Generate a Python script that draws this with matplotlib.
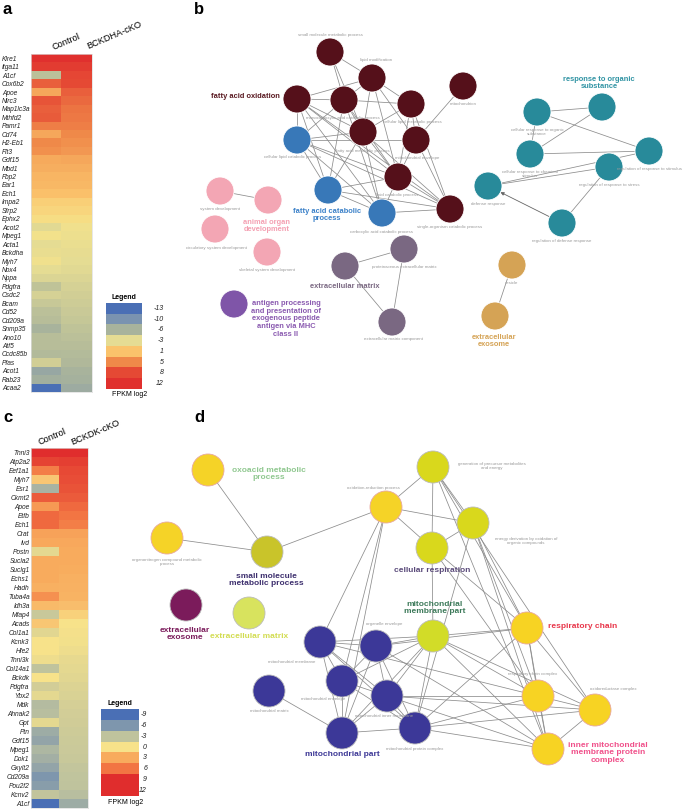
import numpy as np
import matplotlib.pyplot as plt
from matplotlib.colors import LinearSegmentedColormap, Normalize
from matplotlib.patches import Circle

plt.rcParams['font.family'] = ['Liberation Sans', 'DejaVu Sans']

W, H = 685, 810

# ---------------- panel a heatmap (log2 FPKM) ----------------
genes_a = ['Klre1', 'Itga11', 'A1cf', 'Cox6b2', 'Apoe', 'Nlrc3', 'Map1lc3a', 'Mthfd2', 'Pamr1', 'Cd74',
           'H2-Eb1', 'Flt3', 'Gdf15', 'Mbd1', 'Fbp2', 'Ear1', 'Ech1', 'Impa2', 'Sfrp2', 'Ephx2',
           'Acot2', 'Mpeg1', 'Acta1', 'Bckdha', 'Myh7', 'Nox4', 'Nppa', 'Pdgfra', 'Csdc2', 'Bcam',
           'Cd52', 'Cd209a', 'Snmp35', 'Ano10', 'Atf5', 'Ccdc85b', 'Pfas', 'Acot1', 'Rab23', 'Acaa2']
ctrl_a = [12, 10, -5, 7, 3, 7.5, 7, 7.2, 5.5, 3,
          5, 4.5, 2.8, 2.5, 2, 1.8, 1.2, 0, -0.5, -1,
          -3.2, -1.8, -3, -2.6, -2, -3, -3.5, -4.8, -3.8, -4.5,
          -5, -5.2, -6, -5.2, -5.2, -5.5, -4, -7.5, -6.5, -13]
cko_a = [12, 10, 8.5, 8, 7, 6.5, 6, 5.8, 5.5, 5,
         4.5, 4, 3, 2.5, 2, 1.8, 1.2, 0, -0.5, -1,
         -2, -2.2, -2.5, -2.8, -3, -3.2, -3.5, -3.8, -4, -4.2,
         -4.4, -4.6, -4.8, -5, -5.2, -5.4, -5.6, -6, -6.3, -7]
legend_a = [-13, -10, -6, -3, 1, 5, 8, 12]
cmap_a_vals = [-13, -10, -6, -3, -1.5, 1, 5, 8, 12]
cmap_a_cols = ['#4a6fb5', '#7b94b0', '#a9b49c', '#e5dc93', '#f6e38a', '#fbc46c', '#f08a4a', '#e64a35', '#e0302e']

# ---------------- panel c heatmap ----------------
genes_c = ['Tnni3', 'Atp2a2', 'Eef1a1', 'Myh7', 'Esr1', 'Ckmt2', 'Apoe', 'Etfb', 'Ech1', 'Crat',
           'Ivd', 'Postn', 'Sucla2', 'Suclg1', 'Echs1', 'Hadh', 'Tuba4a', 'Idh3a', 'Mfap4', 'Acads',
           'Col1a1', 'Kcnk3', 'Hfe2', 'Tnni3k', 'Col14a1', 'Bckdk', 'Pdgfra', 'Ybx2', 'Mdk', 'Ahnak2',
           'Gpt', 'Ptn', 'Gdf15', 'Mpeg1', 'Dok1', 'Gxylt2', 'Cd209a', 'Pou2f2', 'Kcnv2', 'A1cf']
ctrl_c = [12, 8, 5.5, 1.5, -4, 7, 4, 6.5, 6.5, 3.5,
          3.2, -1, 3, 3, 3, 2.8, 4.5, 2.2, -2.5, 1.5,
          -1.2, 0, 0, -0.5, -3, 0, -2, -1, -3.5, -3.3,
          -1, -4.5, -5, -3.8, -4.3, -5, -6, -5.5, -2.8, -9]
cko_c = [12, 8.2, 7.8, 7.6, 7.4, 7, 6.5, 6, 5.5, 3.5,
         3.2, 3, 3, 2.9, 2.8, 2.7, 2.6, 2, 1, 0,
         -0.2, -0.3, -0.5, -0.8, -1, -1.2, -1.4, -1.6, -1.8, -2,
         -2.1, -2.2, -2.3, -2.4, -2.5, -2.7, -2.9, -3, -3.3, -4.5]
legend_c = [-9, -6, -3, 0, 3, 6, 9, 12]
cmap_c_vals = [-9, -6, -3, 0, 3, 6, 9, 12]
cmap_c_cols = ['#4a6fb5', '#7f97ad', '#bfc39e', '#f8e38a', '#f9ac5e', '#f27543', '#e02d2d', '#e02d2d']

# ---------------- panel b network ----------------
b_x = [330, 372, 297, 344, 411, 463, 363, 416, 398, 450, 297, 328, 382,
       220, 268, 215, 267, 537, 602, 530, 649, 609, 488, 562, 345, 404, 392, 234, 512, 495]
b_y = [52, 78, 99, 100, 104, 86, 132, 140, 177, 209, 140, 190, 213,
       191, 200, 229, 252, 112, 107, 154, 151, 167, 186, 223, 266, 249, 322, 304, 265, 316]
b_col = ['#55101a'] * 10 + ['#3878b8'] * 3 + ['#f3a6b4'] * 4 + ['#288a9a'] * 7 + \
        ['#7a6882'] * 3 + ['#7f55a8'] + ['#d5a355'] * 2
b_edges = [(0, 1), (0, 3), (0, 6), (1, 2), (1, 3), (1, 4), (1, 6), (1, 7), (1, 8), (2, 3), (2, 10),
           (2, 6), (2, 8), (2, 11), (2, 12), (2, 9), (3, 4), (3, 6), (3, 10), (3, 11), (3, 12),
           (3, 8), (4, 6), (4, 7), (4, 8), (4, 9), (5, 7), (6, 10), (6, 11), (6, 12), (6, 8), (6, 9),
           (7, 8), (7, 9), (7, 10), (8, 11), (8, 12), (8, 9), (10, 8), (10, 9), (10, 11), (10, 12),
           (11, 12), (11, 9), (12, 9), (13, 14), (17, 18), (17, 19), (17, 20), (18, 19), (19, 20),
           (22, 21), (22, 20), (23, 21), (24, 25), (24, 26), (25, 26), (28, 29)]
b_arrow = (23, 22)
b_small = [('small molecule metabolic process', 330, 35), ('lipid modification', 376, 60),
           ('monocarboxylic acid catabolic process', 343, 118), ('cellular lipid metabolic process', 412, 122),
           ('fatty acid metabolic process', 363, 151), ('mitochondrial envelope', 417, 158),
           ('cellular lipid catabolic process', 293, 157), ('lipid catabolic process', 397, 195),
           ('mitochondrion', 463, 104), ('single-organism catabolic process', 450, 227),
           ('carboxylic acid catabolic process', 382, 232), ('system development', 220, 209),
           ('circulatory system development', 216, 248), ('skeletal system development', 267, 270),
           ('cellular response to organic\nsubstance', 537, 132), ('cellular response to chemical\nstimulus', 530, 174),
           ('regulation of response to stimulus', 650, 169), ('regulation of response to stress', 609, 185),
           ('defense response', 488, 204), ('regulation of defense response', 562, 241),
           ('proteinaceous extracellular matrix', 404, 267), ('extracellular matrix component', 393, 339),
           ('vesicle', 512, 283)]
b_big = [('fatty acid oxidation', 280, 97, '#5a1a22', 'right'),
         ('fatty acid catabolic\nprocess', 327, 215, '#3a80c8', 'center'),
         ('animal organ\ndevelopment', 267, 226, '#f4a0b2', 'center'),
         ('response to organic\nsubstance', 599, 83, '#2f93a3', 'center'),
         ('extracellular matrix', 345, 286, '#7a6882', 'center'),
         ('antigen processing\nand presentation of\nexogenous peptide\nantigen via MHC\nclass II', 286, 319, '#8a5ab0', 'center'),
         ('extracellular\nexosome', 494, 341, '#d5a355', 'center')]

# ---------------- panel d network ----------------
d_x = [208, 167, 267, 386, 433, 473, 432, 433, 527, 538, 595, 548,
       320, 376, 342, 387, 269, 342, 415, 186, 249]
d_y = [470, 538, 552, 507, 467, 523, 548, 636, 628, 696, 710, 749,
       642, 646, 681, 696, 691, 733, 728, 605, 613]
d_col = ['#f5d327', '#f5d327', '#c9c42a', '#f5d327', '#d9d81c', '#d9d81c', '#d9d81c', '#d2dc28',
         '#f7d323', '#f7d323', '#f7d323', '#f7d323'] + ['#3c3898'] * 7 + ['#7b1b5b', '#d8e35e']
d_edges = [(0, 2), (1, 2), (2, 3), (3, 4), (3, 5), (3, 6), (4, 6), (4, 5), (5, 6), (3, 12), (3, 14),
           (4, 8), (4, 10), (5, 8), (5, 9), (5, 11), (6, 8), (6, 7), (6, 9), (5, 18), (7, 12), (7, 13),
           (7, 8), (7, 14), (7, 15), (7, 17), (7, 18), (7, 9), (7, 11), (7, 10), (12, 13), (12, 14),
           (12, 15), (12, 17), (12, 18), (13, 14), (13, 15), (13, 17), (13, 18), (14, 15), (14, 17),
           (14, 18), (15, 17), (15, 18), (15, 9), (15, 10), (15, 11), (17, 18), (16, 17), (18, 8),
           (18, 9), (18, 10), (18, 11), (8, 9), (8, 10), (8, 11), (9, 10), (9, 11), (10, 11), (13, 8),
           (12, 9), (13, 11), (4, 11), (3, 17)]
d_small = [('organonitrogen compound metabolic\nprocess', 167, 562), ('oxidation-reduction process', 373, 488),
           ('generation of precursor metabolites\nand energy', 492, 466), ('energy derivation by oxidation of\norganic compounds', 526, 541),
           ('respiratory chain complex', 533, 674), ('oxidoreductase complex', 613, 689),
           ('mitochondrial membrane', 292, 662), ('organelle envelope', 384, 624),
           ('mitochondrial envelope', 323, 699), ('mitochondrial inner membrane', 384, 716),
           ('mitochondrial matrix', 269, 711), ('mitochondrial protein complex', 415, 749)]
d_big = [('oxoacid metabolic\nprocess', 269, 474, '#90c890', 'center'),
         ('small molecule\nmetabolic process', 266, 580, '#3d2f6e', 'center'),
         ('cellular respiration', 432, 571, '#5a4a7a', 'center'),
         ('mitochondrial\nmembrane part', 435, 608, '#3d7a5a', 'center'),
         ('respiratory chain', 548, 627, '#e8364a', 'left'),
         ('inner mitochondrial\nmembrane protein\ncomplex', 608, 753, '#f0508a', 'center'),
         ('mitochondrial part', 342, 755, '#3d3896', 'center'),
         ('extracellular\nexosome', 185, 634, '#7b1b5b', 'center'),
         ('extracellular matrix', 249, 636, '#d2dc50', 'center')]


def make_cmap(vals, cols):
    lo, hi = vals[0], vals[-1]
    pos = [(v - lo) / (hi - lo) for v in vals]
    return LinearSegmentedColormap.from_list('c', list(zip(pos, cols))), Normalize(lo, hi)


fig = plt.figure(figsize=(W / 100, H / 100), dpi=100)
bg = fig.add_axes([0, 0, 1, 1])
bg.set_xlim(0, W)
bg.set_ylim(H, 0)
bg.axis('off')


def px_axes(x0, y0, x1, y1):
    return fig.add_axes([x0 / W, 1 - y1 / H, (x1 - x0) / W, (y1 - y0) / H])


def heatmap(rect, genes, ctrl, cko, cmap, norm, left_labels):
    ax = px_axes(*rect)
    ax.imshow(np.array([ctrl, cko]).T, cmap=cmap, norm=norm, aspect='auto', interpolation='nearest')
    ax.set_xticks([])
    ax.set_yticks(range(len(genes)))
    if left_labels:
        ax.set_yticklabels(genes, ha='left', fontsize=4.8, style='italic', color='#222')
        ax.tick_params(axis='y', length=0, pad=(rect[0] - 2) * 0.72)
    else:
        ax.set_yticklabels(genes, fontsize=4.8, style='italic', color='#222')
        ax.tick_params(axis='y', length=0, pad=1)
    for s in ax.spines.values():
        s.set_color('#dddddd')
        s.set_linewidth(0.5)
    return ax


def legend_box(rect, vals, cmap, norm, lab_x, title_y, unit_y):
    ax = px_axes(*rect)
    ax.imshow(np.array(vals)[:, None], cmap=cmap, norm=norm, aspect='auto', interpolation='nearest')
    ax.axis('off')
    cell = (rect[3] - rect[1]) / len(vals)
    for i, v in enumerate(vals):
        bg.text(lab_x, rect[1] + cell * (i + 0.5), str(v), fontsize=5, style='italic',
                ha='right', va='center', color='#222')
    cx = (rect[0] + rect[2]) / 2
    bg.text(cx, title_y, 'Legend', fontsize=5, fontweight='bold', ha='center', va='bottom')
    bg.text(cx + 6, unit_y, 'FPKM log2', fontsize=5, ha='center', va='center')


cm_a, nm_a = make_cmap(cmap_a_vals, cmap_a_cols)
cm_c, nm_c = make_cmap(cmap_c_vals, cmap_c_cols)

heatmap((31, 54, 92, 392), genes_a, ctrl_a, cko_a, cm_a, nm_a, True)
legend_box((106, 303, 142, 389), legend_a, cm_a, nm_a, 164, 301, 395)
bg.text(54, 52, 'Control', fontsize=6.6, rotation=23, rotation_mode='anchor', ha='left', va='bottom')
bg.text(89, 51, 'BCKDHA-cKO', fontsize=6.6, rotation=23, rotation_mode='anchor', ha='left', va='bottom')

heatmap((31, 448, 88, 808), genes_c, ctrl_c, cko_c, cm_c, nm_c, False)
legend_box((101, 709, 139, 796), legend_c, cm_c, nm_c, 147, 707, 803)
bg.text(40, 447, 'Control', fontsize=6.6, rotation=23, rotation_mode='anchor', ha='left', va='bottom')
bg.text(73, 447, 'BCKDK-cKO', fontsize=6.6, rotation=23, rotation_mode='anchor', ha='left', va='bottom')

for lab, x, y in [('a', 3, 2), ('b', 194, 2), ('c', 3, 410), ('d', 194, 410)]:
    bg.text(x, y, lab, fontsize=12, fontweight='bold', ha='left', va='top')


def network(xs, ys, cols, edges, r, small, big, big_size, ec):
    for i, j in edges:
        bg.plot([xs[i], xs[j]], [ys[i], ys[j]], color='#8c8c8c', lw=0.55, zorder=2)
    for x, y, c, e in zip(xs, ys, cols, ec):
        bg.add_patch(Circle((x, y), r, fc=c, ec=e, lw=0.6, zorder=3))
    for t, x, y in small:
        bg.text(x, y, t, fontsize=3.2, color='#9a9a9a', ha='center', va='center', zorder=4,
                linespacing=1.0)
    for t, x, y, c, ha in big:
        bg.text(x, y, t, fontsize=big_size, color=c, fontweight='bold', ha=ha, va='center',
                zorder=4, linespacing=1.15)


network(b_x, b_y, b_col, b_edges, 14, b_small, b_big, 5.4, ['white'] * len(b_x))
i, j = b_arrow
bg.annotate('', xy=(b_x[j], b_y[j]), xytext=(b_x[i], b_y[i]),
            arrowprops=dict(arrowstyle='-|>', color='#666666', lw=0.6, mutation_scale=5,
                            shrinkA=10, shrinkB=10), zorder=2)

d_ec = ['#e8a8a0' if c in ('#f5d327', '#f7d323') else '#bbbbbb' for c in d_col]
network(d_x, d_y, d_col, d_edges, 16, d_small, d_big, 6, d_ec)

fig.savefig('out.png', dpi=100)
